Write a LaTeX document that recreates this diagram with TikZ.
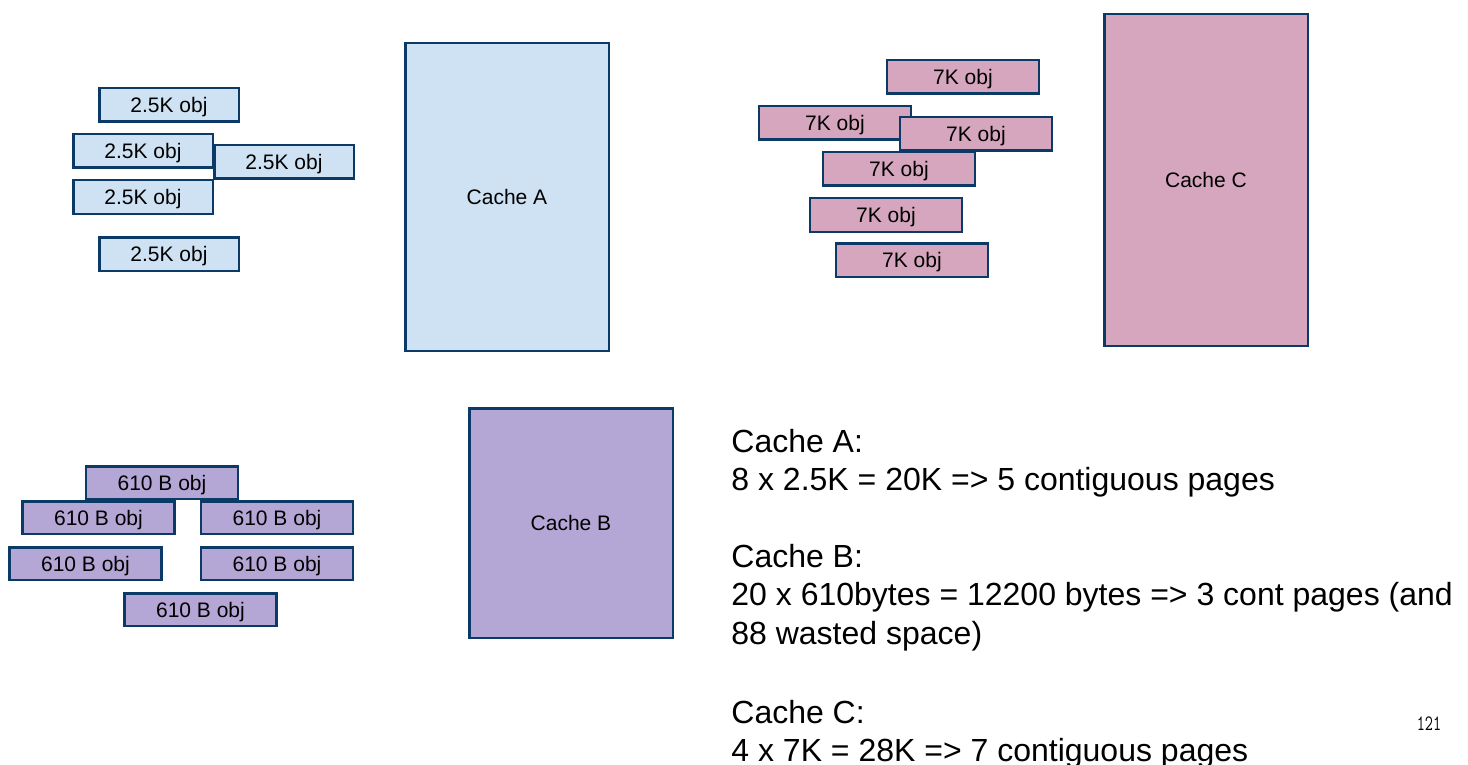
\documentclass[tikz,border=0pt]{standalone}
\usepackage{fontspec}
\setmainfont{Liberation Sans}
\definecolor{boxedge}{HTML}{0B3A66}
\definecolor{fillA}{HTML}{CFE2F3}
\definecolor{fillB}{HTML}{B4A7D6}
\definecolor{fillC}{HTML}{D5A6BD}
\begin{document}
\begin{tikzpicture}[x=0.5pt,y=-0.5pt,
    box/.style={draw=boxedge,line width=1.25pt,inner sep=0pt,text depth=0pt,
        font=\fontsize{10.5}{12}\selectfont},
    objA/.style={box,fill=fillA,minimum width=69.75pt,minimum height=16.75pt},
    objB/.style={box,fill=fillB,minimum width=76pt,minimum height=16.25pt},
    objC/.style={box,fill=fillC,minimum width=76pt,minimum height=16.75pt},
    cache/.style={box,minimum width=101.75pt},
    note/.style={anchor=base west,align=left,inner sep=0pt,
        font=\fontsize{16}{19.25}\selectfont}]
    \useasboundingbox (0,0) rectangle (1468,765);

    \node[objA] (a1) at (169,105) {2.5K obj};
    \node[objA] (a2) at (143,151) {2.5K obj};
    \node[objA] (a3) at (284,162) {2.5K obj};
    \node[objA] (a4) at (143,197) {2.5K obj};
    \node[objA] (a5) at (169,254) {2.5K obj};
    \node[cache,fill=fillA,minimum height=153.75pt] (cacheA) at (507,197) {Cache A};

    \node[objC] (c1) at (963,77) {7K obj};
    \node[objC] (c2) at (835,123) {7K obj};
    \node[objC] (c3) at (976,134) {7K obj};
    \node[objC] (c4) at (899,169) {7K obj};
    \node[objC] (c5) at (886,215) {7K obj};
    \node[objC] (c6) at (912,260) {7K obj};
    \node[cache,fill=fillC,minimum height=165.75pt] (cacheC) at (1206,180) {Cache C};

    \node[objB] (b1) at (162,482.5) {610 B obj};
    \node[objB] (b2) at (98.5,517.5) {610 B obj};
    \node[objB] (b3) at (277,517.5) {610 B obj};
    \node[objB] (b4) at (85.5,563.5) {610 B obj};
    \node[objB] (b5) at (277,563.5) {610 B obj};
    \node[objB] (b6) at (200.5,609.5) {610 B obj};
    \node[cache,fill=fillB,minimum height=114.75pt] (cacheB) at (571,523) {Cache B};

    \node[note] (noteA) at (731,490.5) {Cache A:\\8 x 2.5K = 20K => 5 contiguous pages};
    \node[note] (noteB) at (731,644) {Cache B:\\20 x 610bytes = 12200 bytes => 3 cont pages (and\\88 wasted space)};
    \node[note] (noteC) at (731,761.5) {Cache C:\\4 x 7K = 28K => 7 contiguous pages};

    \node[font=\ttfamily\fontsize{11}{12}\selectfont,xscale=0.72] (pagenum) at (1429,724) {121};
\end{tikzpicture}
\end{document}
